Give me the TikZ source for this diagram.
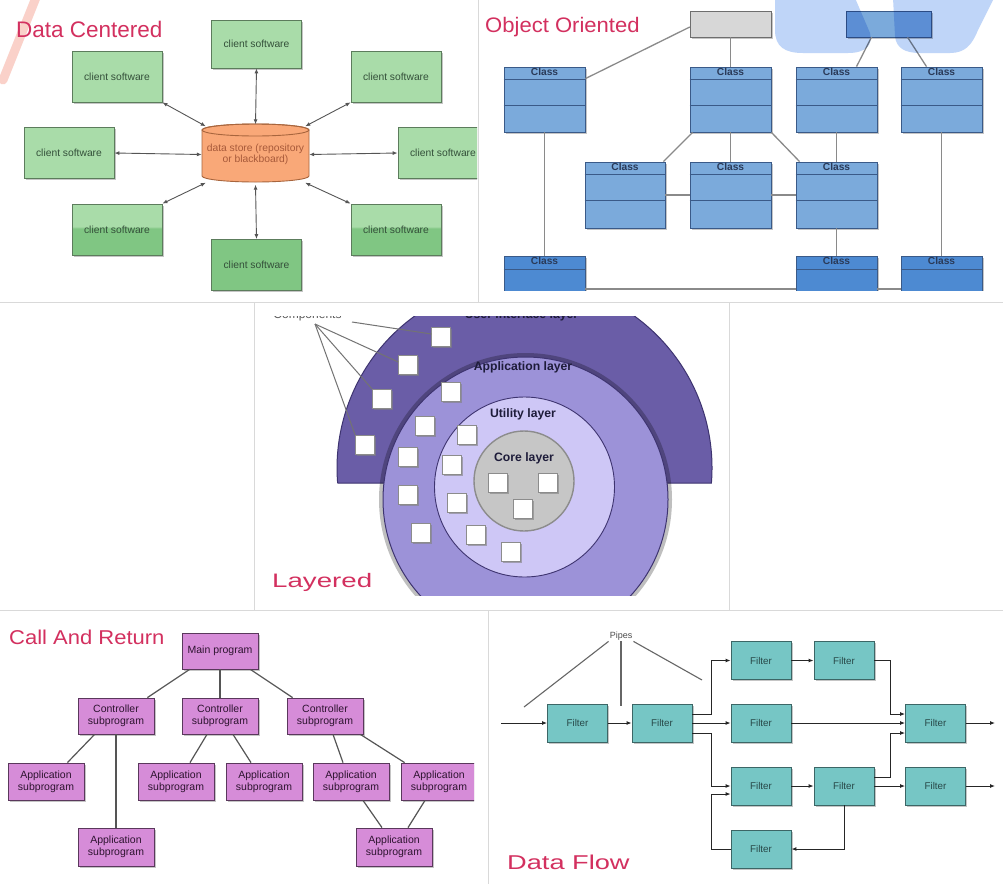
\documentclass[tikz,border=0pt]{standalone}
\usepackage{fontspec}
\setmainfont{Liberation Sans}
\usepackage{graphicx}
\usetikzlibrary{shadows,calc,arrows.meta}

\definecolor{ttl}{HTML}{D3305F}
\definecolor{rulegray}{HTML}{D9D9D9}
\definecolor{smear}{HTML}{F7B3A6}
\definecolor{cgreen}{HTML}{A9DCA9}
\definecolor{cgreendark}{HTML}{80C683}
\definecolor{cgreenline}{HTML}{5C7C5C}
\definecolor{cgreentext}{HTML}{34503A}
\definecolor{dsfill}{HTML}{F9A878}
\definecolor{dsline}{HTML}{A8653D}
\definecolor{dstext}{HTML}{A85A3A}
\definecolor{wire}{HTML}{555555}
\definecolor{clsfill}{HTML}{7BAADB}
\definecolor{clsdark}{HTML}{4D8AD2}
\definecolor{clsline}{HTML}{3A5A88}
\definecolor{clstext}{HTML}{2A3A58}
\definecolor{boxgray}{HTML}{D7D7D7}
\definecolor{linegray}{HTML}{6E6E6E}
\definecolor{oowire}{HTML}{8A8A8A}
\definecolor{wmblue}{HTML}{BFD5F8}
\definecolor{uifill}{HTML}{6A5DA7}
\definecolor{appfill}{HTML}{9C92D8}
\definecolor{utilfill}{HTML}{CEC7F6}
\definecolor{corefill}{HTML}{C6C6C6}
\definecolor{layline}{HTML}{3E3470}
\definecolor{laytext}{HTML}{1E1C3A}
\definecolor{procfill}{HTML}{D68CD8}
\definecolor{procline}{HTML}{5A385C}
\definecolor{proctext}{HTML}{2E1430}
\definecolor{filtfill}{HTML}{76C6C5}
\definecolor{filtline}{HTML}{3C6666}
\definecolor{filttext}{HTML}{284848}

% lower boxes: darker green below the middle
\pgfdeclareverticalshading{greensplit}{100bp}{color(0bp)=(cgreendark); color(51bp)=(cgreendark); color(53bp)=(cgreen); color(100bp)=(cgreen)}

\newcommand{\ttlsize}[1]{\fontsize{#1}{#1}\selectfont}
\newcommand{\dcfont}{\fontsize{10.3}{11.5}\selectfont}
\newcommand{\ccfont}{\fontsize{10.2}{10.5}\selectfont\bfseries}
\newcommand{\prfont}{\fontsize{10.5}{12.3}\selectfont}
\newcommand{\flfont}{\fontsize{9.8}{11}\selectfont}
\newcommand{\lyfont}{\fontsize{12.2}{13}\selectfont\bfseries}

\begin{document}
\begin{tikzpicture}[x=1pt,y=-1pt,
  >={Latex[length=5pt,width=4pt]},
  shadowed/.style={drop shadow={shadow xshift=1.5pt,shadow yshift=-1.8pt,opacity=0.45}},
  title/.style={anchor=base west, inner sep=0, text=ttl},
  client/.style={shadowed, draw=cgreenline, fill=cgreen, line width=0.8,
    minimum width=90, minimum height=51, inner sep=0, font=\dcfont, text=cgreentext},
  clientlow/.style={client, shade, shading=greensplit},
  dsarrow/.style={<->, draw=wire, line width=0.9},
  classbox/.style={shadowed, draw=clsline, fill=clsfill, line width=0.8,
    minimum width=81, minimum height=65, inner sep=0,
    label={[anchor=north, inner sep=1pt, font=\ccfont, text=clstext]north:Class}},
  classlow/.style={classbox, fill=clsdark, minimum height=66},
  oolink/.style={draw=oowire, line width=1.3},
  comp/.style={draw=black!45, fill=white, minimum size=19, inner sep=0,
    drop shadow={shadow xshift=1.5pt,shadow yshift=-1.5pt,opacity=0.6}},
  complink/.style={draw=black!55, line width=1},
  proc/.style={shadowed, draw=procline, fill=procfill, line width=0.8,
    minimum width=76, minimum height=36, inner sep=0, align=center,
    font=\prfont, text=proctext},
  call/.style={draw=wire, line width=1.2},
  filt/.style={shadowed, draw=filtline, fill=filtfill, line width=0.8,
    minimum width=60, minimum height=38, inner sep=0, font=\flfont, text=filttext},
  flow/.style={->, draw=black!85, line width=1},
  pipe/.style={draw=black!60, line width=1.1}
]
\useasboundingbox (0,0) rectangle (1003,884);
\fill[white] (0,0) rectangle (1003,884);

% panel frames
\draw[rulegray, line width=1] (0,302) -- (1003,302);
\draw[rulegray, line width=1] (478,0) -- (478,302);
\draw[rulegray, line width=1] (254,302) -- (254,610);
\draw[rulegray, line width=1] (729,302) -- (729,610);
\draw[rulegray, line width=1] (0,610) -- (1003,610);
\draw[rulegray, line width=1] (488,610) -- (488,884);

% ---------------- Data centered ----------------
\begin{scope}
\clip (0,0) rectangle (477,300);
\draw[smear, line width=9, opacity=0.6, line cap=round] (37,-5) -- (3,80);
\node[title, font=\ttlsize{22.5}] (t-dc) at (16,37) {Data Centered};

\node[client, minimum height=48] (c-n) at (256.5,44) {client software};
\node[client] (c-nw) at (117,76.5) {client software};
\node[client] (c-ne) at (396,76.5) {client software};
\node[client] (c-w) at (69,153) {client software};
\node[client] (c-e) at (443,153) {client software};
\node[clientlow] (c-sw) at (117,229.5) {client software};
\node[clientlow] (c-se) at (396,229.5) {client software};
\node[client, fill=cgreendark] (c-s) at (256.5,265) {client software};

% data store cylinder
\filldraw[fill=dsfill, draw=dsline, line width=0.9]
  (202,130) -- (202,176) arc[start angle=180, end angle=0, x radius=53.5, y radius=6]
  -- (309,130) arc[start angle=0, end angle=-180, x radius=53.5, y radius=6] -- cycle;
\draw[dsline, line width=0.9] (255.5,130) ellipse[x radius=53.5, y radius=6];
\node[minimum width=107, minimum height=60, inner sep=0, align=center,
  font=\dcfont, text=dstext] (ds) at (255.5,154.5) {data store (repository\\or blackboard)};

\draw[dsarrow] (c-n.south) -- (ds.north);
\draw[dsarrow] (c-nw.south east) -- ($(ds.north west)+(4,2)$);
\draw[dsarrow] (c-ne.south west) -- ($(ds.north east)+(-4,2)$);
\draw[dsarrow] (c-w.east) -- (ds.west);
\draw[dsarrow] (ds.east) -- (c-e.west);
\draw[dsarrow] (c-sw.north east) -- ($(ds.south west)+(4,-2)$);
\draw[dsarrow] (c-se.north west) -- ($(ds.south east)+(-4,-2)$);
\draw[dsarrow] (ds.south) -- (c-s.north);
\end{scope}

% ---------------- Object oriented ----------------
\begin{scope}
\clip (479,0) rectangle (1003,290);
\node[title, font=\ttlsize{21}] (t-oo) at (485,32) {\scalebox{1.05}[1]{Object Oriented}};

\node[shadowed, draw=linegray, fill=boxgray, minimum width=81, minimum height=26, inner sep=0] (gbox) at (730.5,24) {};
\node[shadowed, draw=clsline, fill=clsfill, minimum width=85, minimum height=26, inner sep=0] (bbox) at (888.5,24) {};

\node[classbox] (c1) at (544.5,99.5) {};
\node[classbox] (c2) at (730.5,99.5) {};
\node[classbox] (c3) at (836.5,99.5) {};
\node[classbox] (c4) at (941.5,99.5) {};
\node[classbox, minimum width=80, minimum height=66] (d1) at (625,195) {};
\node[classbox, minimum height=66] (d2) at (730.5,195) {};
\node[classbox, minimum height=66] (d3) at (836.5,195) {};
\node[classlow] (e1) at (544.5,289) {};
\node[classlow] (e2) at (836.5,289) {};
\node[classlow] (e3) at (941.5,289) {};

% compartments
\foreach \n in {c1,c2,c3,c4,d1,d2,d3} {
  \draw[clsline, line width=0.8] ([yshift=-13pt]\n.north west) -- ([yshift=-13pt]\n.north east);
  \draw[clsline, line width=0.8] ([yshift=-39pt]\n.north west) -- ([yshift=-39pt]\n.north east);
}
\foreach \n in {e1,e2,e3} {
  \draw[clsline, line width=0.8] ([yshift=-14pt]\n.north west) -- ([yshift=-14pt]\n.north east);
}

% associations
\draw[oolink] ($(gbox.west)+(0,3)$) -- ($(c1.north east)+(0,12)$);
\draw[oolink] (gbox.south) -- (c2.north);
\draw[oolink] ($(bbox.south)+(-17,0)$) -- ($(c3.north)+(20,0)$);
\draw[oolink] ($(bbox.south)+(19,0)$) -- ($(c4.north)+(-15,0)$);
\draw[oolink] (c1.south) -- (e1.north);
\draw[oolink] ($(c2.south west)+(3,0)$) -- ($(d1.north east)+(-2,0)$);
\draw[oolink] (c2.south) -- (d2.north);
\draw[oolink] (c2.south east) -- ($(d3.north west)+(4,0)$);
\draw[oolink] (c3.south) -- (d3.north);
\draw[oolink] (c4.south) -- (e3.north);
\draw[oolink] (d1.east) -- (d2.west);
\draw[oolink] (d2.east) -- (d3.west);
\draw[oolink] (d3.south) -- (e2.north);
\draw[oolink] (e1.east) -- (e2.west);
\draw[oolink] (e2.east) -- (e3.west);

% pale blue emblem laid over the corner
\begin{scope}[blend mode=multiply]
\fill[wmblue] (775,-2) -- (775,30) .. controls (775,47) and (785,53) .. (803,53)
  -- (848,53) .. controls (866,53) and (873,45) .. (870,33) -- (855,-2) -- cycle;
\fill[wmblue] (893,-2) -- (895,36) .. controls (896,48) and (905,53) .. (920,53)
  -- (950,53) .. controls (965,53) and (972,45) .. (978,30) -- (994,-2) -- cycle;
\end{scope}
\end{scope}

% ---------------- Layered ----------------
\begin{scope}
\clip (255,316) rectangle (728,595);
\filldraw[fill=uifill, draw=layline, line width=1]
  (337.6,483) -- (711.4,483) arc[start angle=4.59, end angle=-184.59, radius=187.5] -- cycle;
\draw[black, opacity=0.25, line width=5] (525.5,499.5) circle[radius=144];
\filldraw[fill=appfill, draw=layline, line width=1] (525.5,499.5) circle[radius=142.5];
\filldraw[fill=utilfill, draw=layline, line width=0.9] (524.5,487) circle[radius=90];
\filldraw[fill=corefill, draw=black!45, line width=1.4] (524,481) circle[radius=50];

\node[anchor=base, font=\lyfont, text=laytext] (l-ui) at (521.5,318.5) {User interface layer};
\node[anchor=base, font=\lyfont, text=laytext] (l-app) at (523,370) {Application layer};
\node[anchor=base, font=\lyfont, text=laytext] (l-util) at (523,417) {Utility layer};
\node[anchor=base, font=\lyfont, text=laytext] (l-core) at (524,461) {Core layer};
\node[anchor=base, font=\fontsize{12}{12}\selectfont, text=black!65] (l-comp) at (307.5,318.5) {Components};

\node[comp] (q1) at (441,337) {};
\node[comp] (q2) at (408,365) {};
\node[comp] (q3) at (382,399) {};
\node[comp] (q4) at (365,445) {};
\node[comp] (q5) at (451,392) {};
\node[comp] (q6) at (425,426) {};
\node[comp] (q7) at (408,457) {};
\node[comp] (q8) at (408,495) {};
\node[comp] (q9) at (421,533) {};
\node[comp] (q10) at (467,435) {};
\node[comp] (q11) at (452,465) {};
\node[comp] (q12) at (457,503) {};
\node[comp] (q13) at (476,535) {};
\node[comp] (q14) at (511,552) {};
\node[comp] (q15) at (498,483) {};
\node[comp] (q16) at (548,483) {};
\node[comp] (q17) at (523,509) {};

\coordinate (cp1) at (352,322);
\coordinate (cp2) at (315,324);
\draw[complink] (cp1) -- ($(q1.west)+(0,-3)$);
\draw[complink] (cp2) -- ($(q2.west)+(0,-3)$);
\draw[complink] (cp2) -- (q3.north west);
\draw[complink] (cp2) -- (q4.north west);
\end{scope}
\node[title, font=\ttlsize{19.5}] (t-ly) at (272,587) {\scalebox{1.42}[1]{Layered}};

% ---------------- Call and return ----------------
\begin{scope}
\clip (8,611) rectangle (474,884);
\node[title, font=\ttlsize{20}] (t-cr) at (9,644) {\scalebox{1.1}[1]{Call And Return}};

\node[proc] (main) at (220,651) {Main program};
\node[proc] (k1) at (116,716) {Controller\\subprogram};
\node[proc] (k2) at (220,716) {Controller\\subprogram};
\node[proc] (k3) at (325,716) {Controller\\subprogram};
\node[proc, minimum height=37] (a1) at (46,781.5) {Application\\subprogram};
\node[proc, minimum height=37] (a2) at (176,781.5) {Application\\subprogram};
\node[proc, minimum height=37] (a3) at (264,781.5) {Application\\subprogram};
\node[proc, minimum height=37] (a4) at (351,781.5) {Application\\subprogram};
\node[proc, minimum height=37] (a5) at (439,781.5) {Application\\subprogram};
\node[proc, minimum height=38] (a6) at (116,847) {Application\\subprogram};
\node[proc, minimum height=38] (a7) at (394,847) {Application\\subprogram};

\draw[call] ($(main.south west)+(8,0)$) -- ($(k1.north east)+(-7,0)$);
\draw[call] (main.south) -- (k2.north);
\draw[call] ($(main.south east)+(-8,0)$) -- ($(k3.north west)+(6,0)$);
\draw[call] ($(k1.south west)+(17,0)$) -- ($(a1.north east)+(-17,0)$);
\draw[call] (k1.south) -- (a6.north);
\draw[call] ($(k2.south)+(-13,0)$) -- ($(a2.north)+(14,0)$);
\draw[call] ($(k2.south)+(13,0)$) -- ($(a3.north)+(-13,0)$);
\draw[call] ($(k3.south)+(8,0)$) -- ($(a4.north)+(-8,0)$);
\draw[call] ($(k3.south east)+(-3,0)$) -- ($(a5.north west)+(4,0)$);
\draw[call] ($(a4.south)+(12,0)$) -- ($(a7.north)+(-12,0)$);
\draw[call] ($(a5.south)+(-14,0)$) -- ($(a7.north)+(14,0)$);
\end{scope}

% ---------------- Data flow ----------------
\node[title, font=\ttlsize{20}] (t-df) at (507,869) {\scalebox{1.36}[1]{Data Flow}};

\node[filt] (f1) at (577.5,723) {Filter};
\node[filt] (f2) at (662,723) {Filter};
\node[filt] (f3) at (761,660.5) {Filter};
\node[filt] (f4) at (844,660.5) {Filter};
\node[filt] (f5) at (761,723) {Filter};
\node[filt] (f6) at (935.5,723) {Filter};
\node[filt] (f7) at (761,786) {Filter};
\node[filt] (f8) at (844,786) {Filter};
\node[filt] (f9) at (935.5,786) {Filter};
\node[filt] (f10) at (761,849) {Filter};

\coordinate (in1) at (501,723);
\coordinate (out1) at (995,723);
\coordinate (out2) at (995,786);

\draw[flow] (in1) -- (f1.west);
\draw[flow] (f1.east) -- (f2.west);
\draw[flow] ($(f2.east)+(0,-9)$) -- ++(19,0) |- (f3.west);
\draw[flow] (f2.east) -- (f5.west);
\draw[flow] ($(f2.east)+(0,10)$) -- ++(19,0) |- (f7.west);
\draw[flow] (f3.east) -- (f4.west);
\draw[flow] (f4.east) -- ++(16,0) |- ($(f6.west)+(0,-9)$);
\draw[flow] (f5.east) -- (f6.west);
\draw[flow] ($(f8.east)+(0,-9)$) -- ++(16,0) |- ($(f6.west)+(0,10)$);
\draw[flow] (f7.east) -- (f8.west);
\draw[flow] (f8.east) -- (f9.west);
\draw[flow] (f6.east) -- (out1);
\draw[flow] (f9.east) -- (out2);
\draw[flow] (f8.south) |- (f10.east);
\draw[flow] (f10.west) -- ++(-19,0) |- ($(f7.west)+(0,8)$);

\node[font=\fontsize{9}{10}\selectfont, text=black!70, inner sep=1] (pipes) at (621,636) {Pipes};
\coordinate (pw) at (524,707);
\coordinate (pm) at (621,706);
\coordinate (pe) at (702,680);
\draw[pipe] (pipes.south west) -- (pw);
\draw[pipe] (pipes.south) -- (pm);
\draw[pipe] (pipes.south east) -- (pe);
\end{tikzpicture}
\end{document}
